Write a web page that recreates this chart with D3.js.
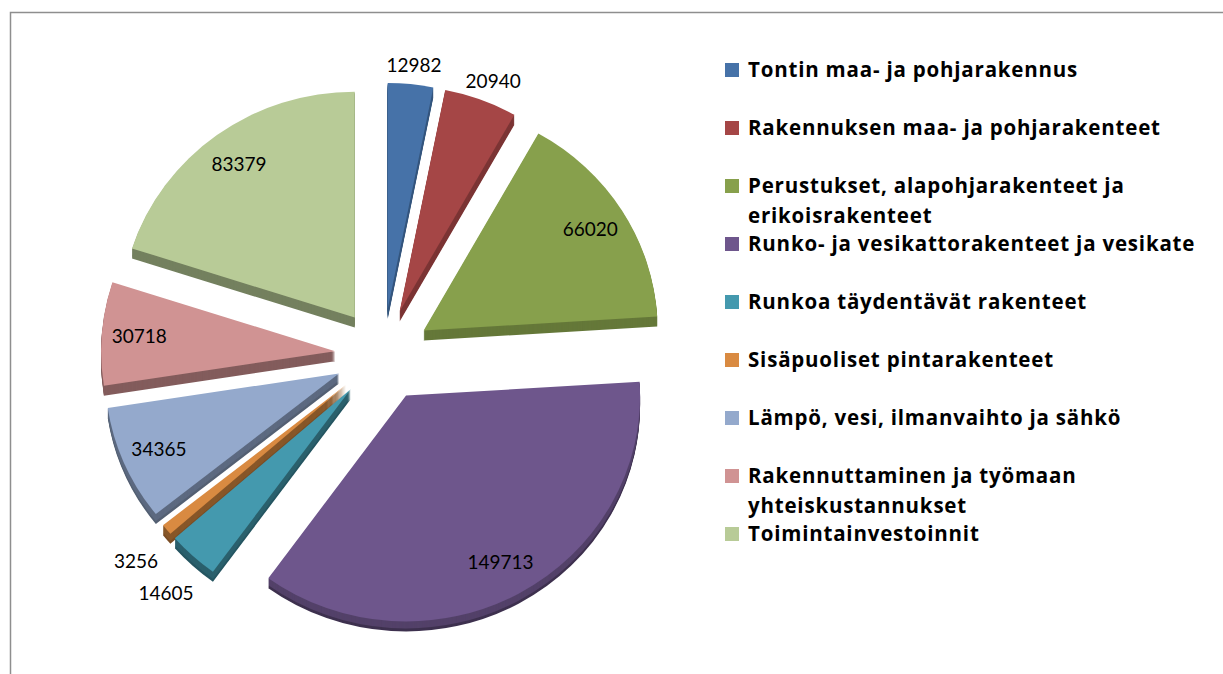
<!DOCTYPE html>
<html>
<head>
<meta charset="utf-8">
<script src="https://cdn.jsdelivr.net/npm/d3@7"></script>
<style>
  body { margin: 0; background: #fff; }
  svg { display: block; }
</style>
</head>
<body>
<div id="chart"></div>
<script>
// cost items of the building project
var categories = [
  "Tontin maa- ja pohjarakennus",
  "Rakennuksen maa- ja pohjarakenteet",
  "Perustukset, alapohjarakenteet ja erikoisrakenteet",
  "Runko- ja vesikattorakenteet ja vesikate",
  "Runkoa täydentävät rakenteet",
  "Sisäpuoliset pintarakenteet",
  "Lämpö, vesi, ilmanvaihto ja sähkö",
  "Rakennuttaminen ja työmaan yhteiskustannukset",
  "Toimintainvestoinnit"
];
var values = [12982, 20940, 66020, 149713, 14605, 3256, 34365, 30718, 83379];
var colors = ["#4672a8", "#a54646", "#87a04c", "#6e568c", "#4499ae", "#d98a41", "#94a9cc", "#d09393", "#b8cb97"];

var W = 1223, H = 674;
var cx = 383, cy = 355;     // pie centre
var rx = 234, sy = 0.965;   // radius and vertical squash of the tilted pie
var explode = 48, depth = 10;

var svg = d3.select("#chart").append("svg")
  .attr("width", W).attr("height", H);

// chart area frame (cropped at right and bottom)
svg.append("path")
  .attr("d", "M10.5,674 L10.5,12.5 L1223,12.5")
  .attr("fill", "none").attr("stroke", "#8e8e8e").attr("stroke-width", 1.5);

var pie = d3.pie().sort(null).value(d => d);
var arcs = pie(values);
var arc = d3.arc().innerRadius(0).outerRadius(rx);
var total = d3.sum(values);

arcs.forEach(function(a, i){
  a.mid = (a.startAngle + a.endAngle) / 2;
  a.ox = cx + explode * Math.sin(a.mid);
  a.oy = cy - explode * Math.cos(a.mid) * sy;
  a.color = colors[i];
});

// back to front
var order = arcs.slice().sort((a, b) => a.oy - Math.cos(a.mid) * 100 - (b.oy - Math.cos(b.mid) * 100));

var gPie = svg.append("g");
order.forEach(function(a){
  // walls facing left get less light
  var side = d3.color(a.color).darker(Math.sin(a.mid) < -0.5 ? 1.3 : 0.8).formatHex();
  var g = gPie.append("g");
  for(var k = depth; k >= 1; k--){
    g.append("path")
      .attr("d", arc(a))
      .attr("transform", "translate(" + a.ox + "," + (a.oy + k) + ") scale(1," + sy + ")")
      .attr("fill", k > depth - 3 && Math.cos(a.mid) < 0 ? d3.color(a.color).darker(1.6).formatHex() : side);
  }
  g.append("path")
    .attr("d", arc(a))
    .attr("transform", "translate(" + a.ox + "," + a.oy + ") scale(1," + sy + ")")
    .attr("fill", a.color);
});

// data labels
var gLab = svg.append("g")
  .style("font-family", "Lato, 'Open Sans', sans-serif")
  .style("font-size", "19px")
  .attr("fill", "#000");

arcs.forEach(function(a, i){
  var sx = Math.sin(a.mid), syy = -Math.cos(a.mid);
  var x, y;
  var t = gLab.append("text").text(values[i]).attr("text-anchor", "middle");
  if(a.data / total > 0.06){
    x = a.ox + 0.84 * rx * sx;
    y = a.oy + 0.84 * rx * syy * sy;
  } else {
    var bb = t.node().getBBox();
    var rr = rx + (syy > 0 ? 40 : 8);
    x = a.ox + rr * sx + (syy < 0 ? sx * bb.width / 2 : 0);
    y = a.oy + rr * syy * sy + syy * bb.height / 2;
  }
  t.attr("x", x).attr("y", y).attr("dy", "0.35em");
});

// legend
var legX = 725, legY = 70, rowH = 58, lineH = 30, maxW = 475;
var gLeg = svg.append("g")
  .style("font-family", "'Open Sans', Lato, sans-serif")
  .style("font-size", "20.5px")
  .style("font-weight", "bold")
  .style("letter-spacing", "0.8px");

categories.forEach(function(c, i){
  var y = legY + i * rowH;
  gLeg.append("rect")
    .attr("x", legX).attr("y", y - 7)
    .attr("width", 14).attr("height", 14)
    .attr("fill", colors[i]);
  var t = gLeg.append("text").attr("x", legX + 23).attr("y", y);
  var words = c.split(" "), line = [], lines = [];
  var probe = gLeg.append("text").attr("visibility", "hidden");
  words.forEach(function(w){
    line.push(w);
    probe.text(line.join(" "));
    if(probe.node().getComputedTextLength() > maxW && line.length > 1){
      line.pop();
      lines.push(line.join(" "));
      line = [w];
    }
  });
  lines.push(line.join(" "));
  probe.remove();
  lines.forEach(function(l, j){
    t.append("tspan").attr("x", legX + 23).attr("dy", j === 0 ? "0.35em" : lineH).text(l);
  });
});
</script>
</body>
</html>
